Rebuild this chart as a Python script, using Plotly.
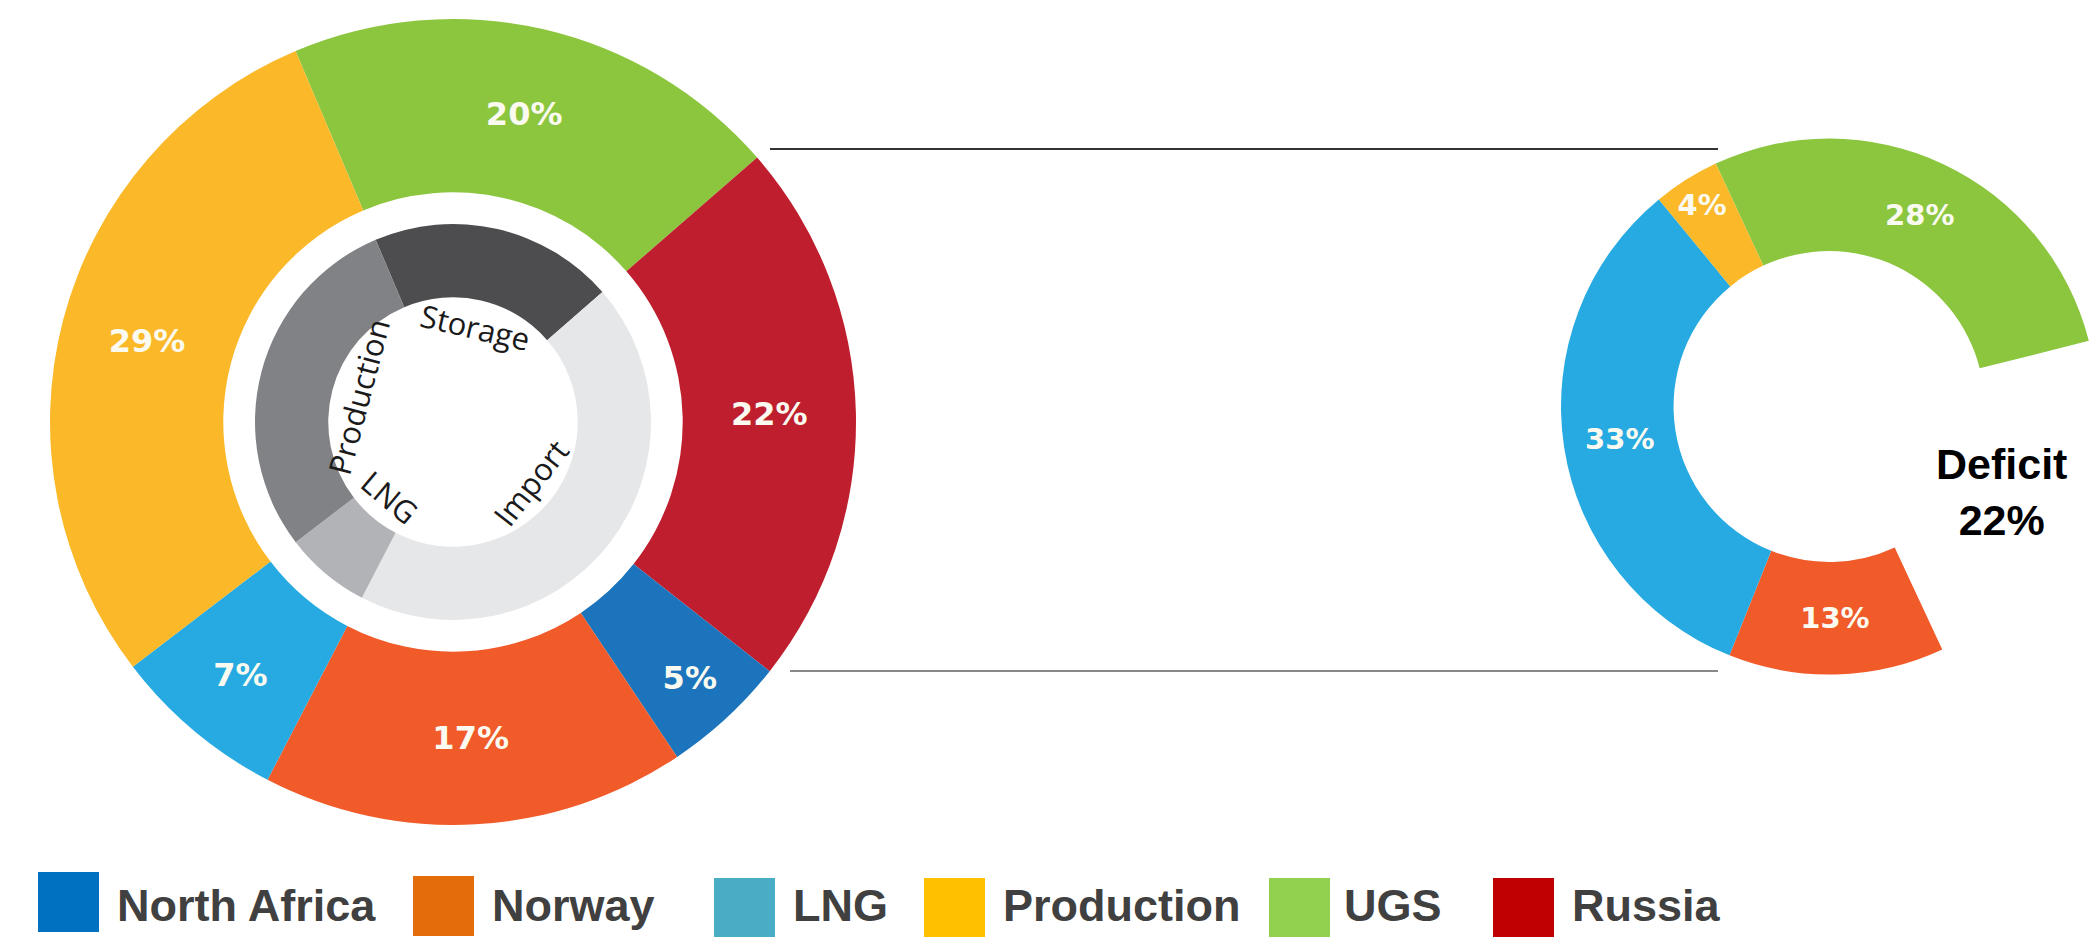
import math
import plotly.graph_objects as go

W, H = 2097, 937
PAD = 8                    # default body margin of the page
FW, FH = W - PAD, H - PAD

# outer ring: gas supply by source (clockwise from UGS)
supply_labels = ["UGS", "Russia", "North Africa", "Norway", "LNG", "Production"]
supply_values = [20, 22, 5, 17, 7, 29]
supply_colors = ["#8cc63f", "#be1e2d", "#1c75bc", "#f15a29", "#27aae1", "#fbb829"]

# inner ring: supply by type
type_labels = ["Storage", "Import", "LNG", "Production"]
type_values = [20, 44, 7, 29]
type_colors = ["#4d4d4f", "#e6e7e8", "#b1b3b6", "#808285"]

# right ring: without Russia
peak_labels = ["UGS", "Deficit", "Norway", "LNG", "Production"]
peak_values = [28, 22, 13, 33, 4]
peak_colors = ["#8cc63f", "rgba(0,0,0,0)", "#f15a29", "#27aae1", "#fbb829"]

legend_labels = ["North Africa", "Norway", "LNG", "Production", "UGS", "Russia"]
legend_colors = ["#0070C0", "#E46C0A", "#4BACC6", "#FFC000", "#92D050", "#C00000"]


def fx(px):
    return (px - PAD) / FW


def fy(py):
    return 1 - (py - PAD) / FH


def dom(cx, cy, r):
    return dict(x=[max(0, fx(cx - r)), min(1, fx(cx + r))],
                y=[fy(cy + r), fy(cy - r)])


def pct(vals, skip=()):
    return ["" if i in skip else f"{v}%" for i, v in enumerate(vals)]


LCX, LCY = 453, 422
ROT = -23

fig = go.Figure()

fig.add_trace(go.Pie(
    labels=supply_labels, values=supply_values, text=pct(supply_values),
    textinfo="text", textposition="inside", insidetextorientation="horizontal",
    marker=dict(colors=supply_colors, line=dict(width=0)),
    sort=False, direction="clockwise", rotation=ROT, hole=0.57,
    domain=dom(LCX, LCY, 403), hoverinfo="skip",
    textfont=dict(family="DejaVu Sans", size=32, color="#fafaf0", weight="bold"),
))

fig.add_trace(go.Pie(
    labels=type_labels, values=type_values, textinfo="none",
    marker=dict(colors=type_colors, line=dict(width=0)),
    sort=False, direction="clockwise", rotation=ROT, hole=0.63,
    domain=dom(LCX, LCY, 198), hoverinfo="skip",
))

fig.add_trace(go.Pie(
    labels=peak_labels, values=peak_values, text=pct(peak_values, skip=(1,)),
    textinfo="text", textposition="inside", insidetextorientation="horizontal",
    marker=dict(colors=peak_colors, line=dict(width=0)),
    sort=False, direction="clockwise", rotation=-25, hole=0.58,
    domain=dom(1829, 406.5, 268), hoverinfo="skip",
    textfont=dict(family="DejaVu Sans", size=29, color="#fafaf0", weight="bold"),
))

annotations = []
shapes = []

# labels of the inner ring, placed at each slice's mid angle
total = sum(type_values)
start = ROT
for lab, v in zip(type_labels, type_values):
    mid = start + 360 * v / total / 2
    start += 360 * v / total
    th = math.radians(mid)
    px = LCX + 98 * math.sin(th)
    py = LCY - 98 * math.cos(th)
    m = mid % 360
    ang = m - 180 if 90 < m < 270 else (m if m <= 90 else m - 360)
    annotations.append(dict(
        x=fx(px), y=fy(py), xref="paper", yref="paper", text=lab,
        showarrow=False, textangle=ang, xanchor="center", yanchor="middle",
        font=dict(family="Open Sans", size=31, color="#1a1a1a"),
    ))

annotations.append(dict(
    x=fx(2001), y=fy(492), xref="paper", yref="paper",
    text=f"<b>Deficit</b><br><b>{peak_values[1]}%</b>", showarrow=False,
    xanchor="center", yanchor="middle",
    font=dict(family="Liberation Sans, Arial", size=43, color="#000000"),
))

# connector lines
shapes.append(dict(type="line", xref="paper", yref="paper",
                   x0=fx(770), x1=fx(1718), y0=fy(149), y1=fy(149),
                   line=dict(color="#333333", width=2)))
shapes.append(dict(type="line", xref="paper", yref="paper",
                   x0=fx(790), x1=fx(1718), y0=fy(671), y1=fy(671),
                   line=dict(color="#888888", width=2)))

# custom legend
sq_x = [38, 413, 714, 924, 1269, 1493]
sq_top = [872, 876, 878, 878, 878, 878]
txt_x = [116, 491, 792, 1002, 1343, 1571]
for lab, col, sx, st, tx in zip(legend_labels, legend_colors, sq_x, sq_top, txt_x):
    shapes.append(dict(type="rect", xref="paper", yref="paper",
                       x0=fx(sx), x1=fx(sx + 61), y0=fy(min(st + 60, H)), y1=fy(st),
                       fillcolor=col, line=dict(width=0)))
    annotations.append(dict(
        x=fx(tx), y=fy(905), xref="paper", yref="paper", text=f"<b>{lab}</b>",
        showarrow=False, xanchor="left", yanchor="middle", borderpad=0,
        font=dict(family="Liberation Sans, Arial", size=45, color="#404040"),
    ))

fig.update_layout(
    width=FW, height=FH,
    margin=dict(l=0, r=0, t=0, b=0),
    paper_bgcolor="white", plot_bgcolor="white",
    showlegend=False,
    annotations=annotations,
    shapes=shapes,
)

fig.write_html("out.html")
